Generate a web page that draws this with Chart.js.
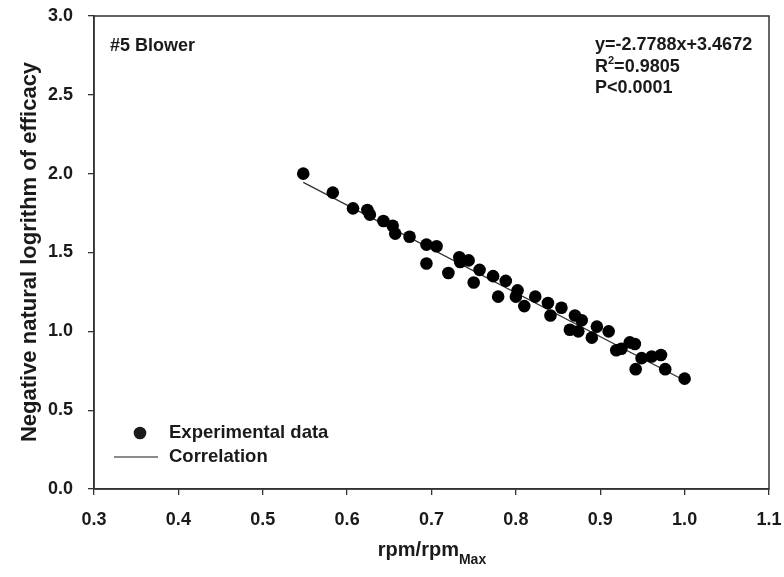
<!DOCTYPE html>
<html>
<head>
<meta charset="utf-8">
<script src="https://cdn.jsdelivr.net/npm/chart.js@4"></script>
<style>
  html, body { margin: 0; padding: 0; background: #fff; }
  #wrap { width: 784px; height: 577px; }
</style>
</head>
<body>
<div id="wrap"><canvas id="c" width="784" height="577"></canvas></div>
<script>
// Measured speed ratio (rpm / rpm max) and -ln(efficacy) for the #5 blower
const speedRatio = [
  0.548, 0.583, 0.607, 0.624, 0.627, 0.643, 0.654, 0.657, 0.674, 0.694,
  0.706, 0.694, 0.733, 0.744, 0.734, 0.720, 0.757, 0.750, 0.773, 0.788,
  0.779, 0.802, 0.800, 0.810, 0.823, 0.838, 0.854, 0.841, 0.870, 0.878,
  0.864, 0.874, 0.896, 0.910, 0.890, 0.935, 0.941, 0.919, 0.925, 0.949,
  0.961, 0.942, 0.972, 0.977, 1.000
];
const negLnEfficacy = [
  2.00, 1.88, 1.78, 1.77, 1.74, 1.70, 1.67, 1.62, 1.60, 1.55,
  1.54, 1.43, 1.47, 1.45, 1.44, 1.37, 1.39, 1.31, 1.35, 1.32,
  1.22, 1.26, 1.22, 1.16, 1.22, 1.18, 1.15, 1.10, 1.10, 1.07,
  1.01, 1.00, 1.03, 1.00, 0.96, 0.93, 0.92, 0.88, 0.89, 0.83,
  0.84, 0.76, 0.85, 0.76, 0.70
];

// Linear fit y = slope * x + intercept, drawn over the measured range
const fitSlope = -2.7788;
const fitIntercept = 3.4672;
const fitRange = [0.548, 1.0];

const xTicks = [0.3, 0.4, 0.5, 0.6, 0.7, 0.8, 0.9, 1.0, 1.1];
const yTicks = [0.0, 0.5, 1.0, 1.5, 2.0, 2.5, 3.0];

const points = speedRatio.map((x, i) => ({ x: x, y: negLnEfficacy[i] }));
const fitLine = fitRange.map(x => ({ x: x, y: fitSlope * x + fitIntercept }));

const INK = '#1a1a1a';
const FONT = '"Liberation Sans", Arial, sans-serif';

const frame = {
  id: 'frame',
  afterDraw(chart) {
    const ctx = chart.ctx;
    const a = chart.chartArea;
    ctx.save();
    // box around the plotting area
    ctx.strokeStyle = '#333';
    ctx.lineWidth = 1.5;
    ctx.strokeRect(a.left, a.top, a.right - a.left, a.bottom - a.top);

    ctx.fillStyle = INK;
    ctx.textBaseline = 'middle';
    ctx.textAlign = 'left';

    // panel label
    ctx.font = 'bold 18px ' + FONT;
    ctx.fillText('#5 Blower', 110, 46);

    // regression summary
    const tx = 595;
    ctx.font = 'bold 18px ' + FONT;
    ctx.fillText('y=' + fitSlope.toFixed(4) + 'x+' + fitIntercept.toFixed(4), tx, 45);
    ctx.fillText('R', tx, 67);
    const w = ctx.measureText('R').width;
    ctx.font = 'bold 11px ' + FONT;
    ctx.fillText('2', tx + w, 61);
    const w2 = ctx.measureText('2').width;
    ctx.font = 'bold 18px ' + FONT;
    ctx.fillText('=0.9805', tx + w + w2, 67);
    ctx.fillText('P<0.0001', tx, 88);

    // legend
    ctx.beginPath();
    ctx.arc(140, 433, 6.3, 0, Math.PI * 2);
    ctx.fill();
    ctx.beginPath();
    ctx.lineWidth = 1.2;
    ctx.strokeStyle = INK;
    ctx.moveTo(114, 457);
    ctx.lineTo(158, 457);
    ctx.stroke();
    ctx.font = 'bold 18.5px ' + FONT;
    ctx.fillText('Experimental data', 169, 433);
    ctx.fillText('Correlation', 169, 457);

    // x axis title with subscript
    ctx.font = 'bold 20px ' + FONT;
    const main = 'rpm/rpm';
    const mw = ctx.measureText(main).width;
    ctx.font = 'bold 14px ' + FONT;
    const sw = ctx.measureText('Max').width;
    const x0 = 432 - (mw + sw) / 2;
    ctx.font = 'bold 20px ' + FONT;
    ctx.fillText(main, x0, 550);
    ctx.font = 'bold 14px ' + FONT;
    ctx.fillText('Max', x0 + mw, 560);

    // y axis title
    ctx.translate(30, 252);
    ctx.rotate(-Math.PI / 2);
    ctx.textAlign = 'center';
    ctx.font = 'bold 22px ' + FONT;
    ctx.fillText('Negative natural logrithm of efficacy', 0, 0);
    ctx.restore();
  }
};

new Chart(document.getElementById('c'), {
  type: 'scatter',
  data: {
    datasets: [
      {
        label: 'Experimental data',
        data: points,
        pointRadius: 6.3,
        pointHoverRadius: 6.3,
        pointBackgroundColor: '#000',
        pointBorderColor: '#000',
        pointBorderWidth: 0
      },
      {
        label: 'Correlation',
        type: 'line',
        data: fitLine,
        borderColor: '#333',
        borderWidth: 1.3,
        pointRadius: 0,
        fill: false
      }
    ]
  },
  options: {
    responsive: false,
    animation: false,
    devicePixelRatio: 1,
    layout: { padding: { left: 0, right: 15, top: 16, bottom: 0 } },
    plugins: {
      legend: { display: false },
      tooltip: { enabled: false }
    },
    scales: {
      x: {
        type: 'linear',
        min: 0.3,
        max: 1.1,
        afterBuildTicks: s => { s.ticks = xTicks.map(v => ({ value: v })); },
        afterFit: s => { s.height = 88; s.paddingLeft = 0; s.paddingRight = 0; },
        ticks: {
          color: INK,
          font: { family: FONT, size: 18, weight: 'bold' },
          padding: 14,
          maxRotation: 0,
          callback: v => v.toFixed(1)
        },
        grid: { drawOnChartArea: false, drawTicks: true, tickLength: 6, color: '#333', lineWidth: 1.3 },
        border: { display: true, color: '#333', width: 1.5 }
      },
      y: {
        type: 'linear',
        min: 0,
        max: 3,
        afterBuildTicks: s => { s.ticks = yTicks.map(v => ({ value: v })); },
        afterFit: s => { s.width = 94; s.paddingTop = 0; s.paddingBottom = 0; },
        ticks: {
          color: INK,
          font: { family: FONT, size: 18, weight: 'bold' },
          padding: 15,
          callback: v => v.toFixed(1)
        },
        grid: { drawOnChartArea: false, drawTicks: true, tickLength: 6, color: '#333', lineWidth: 1.3 },
        border: { display: true, color: '#333', width: 1.5 }
      }
    }
  },
  plugins: [frame]
});
</script>
</body>
</html>
